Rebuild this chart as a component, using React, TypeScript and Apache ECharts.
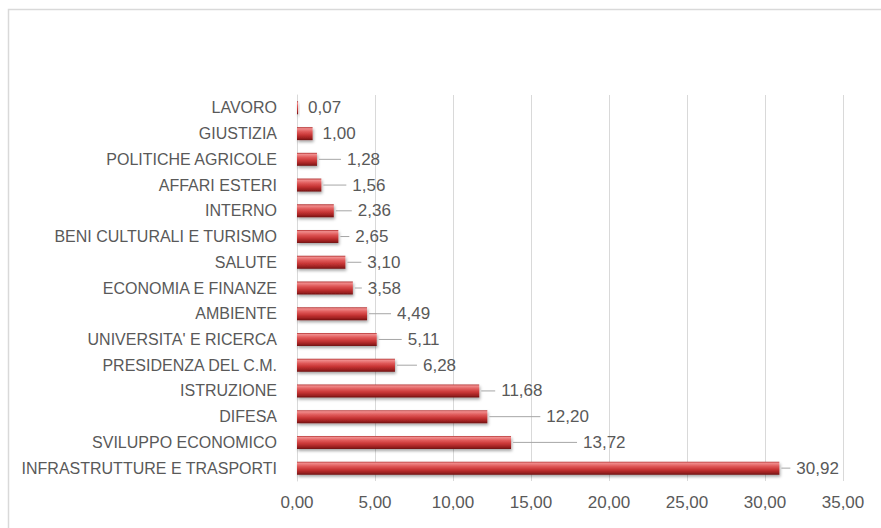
import React, { useEffect, useRef } from "react";
import * as echarts from "echarts";

const categories = [
  "LAVORO",
  "GIUSTIZIA",
  "POLITICHE AGRICOLE",
  "AFFARI ESTERI",
  "INTERNO",
  "BENI CULTURALI E TURISMO",
  "SALUTE",
  "ECONOMIA E FINANZE",
  "AMBIENTE",
  "UNIVERSITA' E RICERCA",
  "PRESIDENZA DEL C.M.",
  "ISTRUZIONE",
  "DIFESA",
  "SVILUPPO ECONOMICO",
  "INFRASTRUTTURE E TRASPORTI",
];

const values = [0.07, 1.0, 1.28, 1.56, 2.36, 2.65, 3.1, 3.58, 4.49, 5.11, 6.28, 11.68, 12.2, 13.72, 30.92];

// layout: pixel gap between bar end and its value label
const labelGap = [10, 10, 30, 31, 24, 17, 22, 15, 30, 31, 28, 22, 59, 72, 17];

const xTicks = { min: 0, max: 35, interval: 5 };

const fmt = (v: number) => v.toFixed(2).replace(".", ",");

export default function App() {
  const ref = useRef<HTMLDivElement>(null);
  useEffect(() => {
    if (!ref.current) return;
    const chart = echarts.init(ref.current, undefined, { renderer: "svg" });
    const font = "'Liberation Sans', Arial, sans-serif";
    chart.setOption({
      animation: false,
      backgroundColor: "#ffffff",
      graphic: [
        {
          type: "rect",
          shape: { x: 8.5, y: 9.5, width: 900, height: 600 },
          style: { fill: "none", stroke: "#d9d9d9", lineWidth: 1.5 },
          silent: true,
        },
      ],
      grid: { left: 297, right: 38, top: 95, bottom: 47, containLabel: false },
      xAxis: {
        type: "value",
        min: xTicks.min,
        max: xTicks.max,
        interval: xTicks.interval,
        axisLine: { show: false },
        axisTick: { show: false },
        splitLine: { show: true, lineStyle: { color: "#d9d9d9", width: 1 } },
        axisLabel: {
          color: "#595959",
          fontSize: 17,
          fontFamily: font,
          margin: 13,
          formatter: (v: number) => fmt(v),
        },
      },
      yAxis: {
        type: "category",
        data: categories,
        inverse: true,
        axisLine: { show: true, lineStyle: { color: "#d9d9d9", width: 1 } },
        axisTick: { show: false },
        splitLine: { show: false },
        axisLabel: {
          color: "#595959",
          fontSize: 16,
          fontFamily: font,
          margin: 20,
        },
      },
      series: [
        {
          type: "bar",
          data: values,
          barWidth: 13,
          itemStyle: {
            color: new echarts.graphic.LinearGradient(0, 0, 0, 1, [
              { offset: 0, color: "#b03030" },
              { offset: 0.12, color: "#f08c8c" },
              { offset: 0.35, color: "#e05a5a" },
              { offset: 0.6, color: "#c83636" },
              { offset: 0.85, color: "#9c2020" },
              { offset: 1, color: "#6e1212" },
            ]),
            shadowColor: "rgba(0,0,0,0.35)",
            shadowBlur: 3,
            shadowOffsetX: 1,
            shadowOffsetY: 2,
          },
          z: 2,
        },
        {
          type: "custom",
          data: values.map((v, i) => [v, i]),
          encode: { x: 0, y: 1 },
          z: 3,
          renderItem: (params: any, api: any) => {
            const v = api.value(0);
            const idx = api.value(1);
            const p = api.coord([v, idx]);
            const gap = labelGap[params.dataIndex];
            const children: any[] = [];
            if (gap > 14) {
              children.push({
                type: "line",
                shape: { x1: p[0] + 2, y1: p[1], x2: p[0] + gap - 6, y2: p[1] },
                style: { stroke: "#a6a6a6", lineWidth: 1 },
              });
            }
            children.push({
              type: "text",
              x: p[0] + gap,
              y: p[1],
              style: {
                text: fmt(v),
                fill: "#595959",
                fontSize: 17,
                fontFamily: font,
                textAlign: "left",
                textVerticalAlign: "middle",
              },
            });
            return { type: "group", children };
          },
        },
      ],
    });
    return () => chart.dispose();
  }, []);
  return (
    <div
      ref={ref}
      style={{ position: "fixed", left: 0, top: 0, width: 881, height: 528 }}
    />
  );
}
